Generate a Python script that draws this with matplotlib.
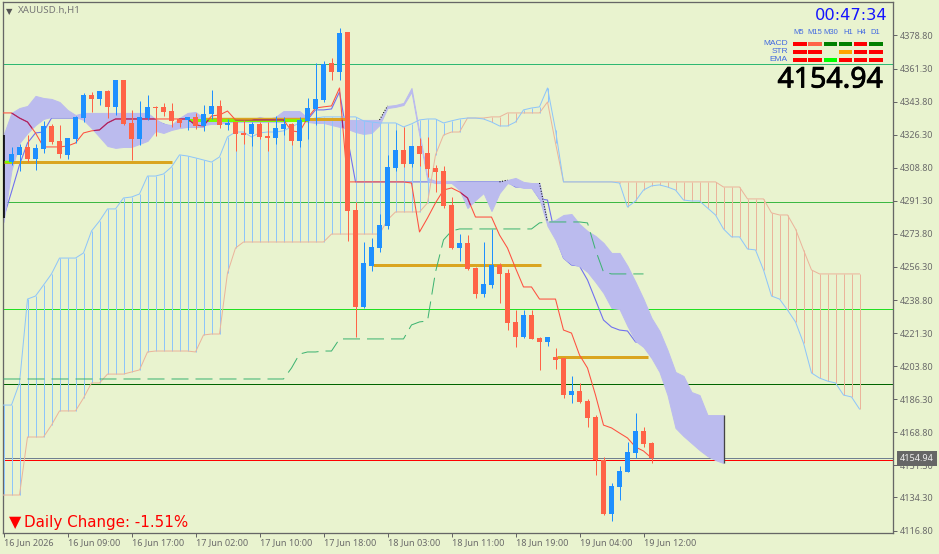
import numpy as np
import matplotlib
matplotlib.use('Agg')
import matplotlib.pyplot as plt
import matplotlib.patheffects as pe
from matplotlib.patches import Rectangle

W, H = 939, 554
BG = '#E9F3CF'
UP = '#1E90FF'
DOWN = '#FF6347'

# candles
opens = [4311.8, 4315.6, 4319.8, 4313.4, 4318.7, 4330.9, 4323.0, 4315.6, 4324.0, 4335.1,
         4347.3, 4345.2, 4349.4, 4341.0, 4355.3, 4332.5, 4324.0, 4335.1, 4341.0, 4341.0,
         4338.8, 4334.6, 4334.1, 4335.7, 4330.9, 4337.3, 4341.5, 4331.4, 4333.0, 4327.2,
         4326.7, 4332.0, 4325.6, 4324.6, 4329.3, 4332.0, 4323.0, 4333.6, 4339.9, 4344.7,
         4364.3, 4359.5, 4380.7, 4286.4, 4235.1, 4256.8, 4266.3, 4278.0, 4308.7, 4318.2,
         4310.8, 4320.3, 4316.6, 4308.7, 4307.1, 4289.1, 4266.3, 4269.0, 4255.7, 4242.0,
         4246.7, 4257.3, 4253.1, 4227.2, 4219.2, 4230.9, 4218.7, 4216.6, 4208.6, 4208.1,
         4188.5, 4190.6, 4185.4, 4176.9, 4154.1, 4125.5, 4139.8, 4147.8, 4157.8, 4169.5,
         4163.1]
closes = [4316.1, 4319.8, 4313.4, 4319.3, 4330.9, 4322.4, 4316.1, 4324.6, 4335.7, 4347.3,
          4345.2, 4349.4, 4341.0, 4355.3, 4332.0, 4324.0, 4335.7, 4341.0, 4340.4, 4338.3,
          4333.6, 4332.5, 4335.7, 4330.9, 4337.3, 4341.5, 4331.4, 4332.5, 4326.7, 4326.1,
          4332.0, 4325.1, 4324.6, 4329.9, 4332.0, 4323.0, 4334.1, 4340.4, 4345.2, 4363.7,
          4359.5, 4380.1, 4285.9, 4235.1, 4258.4, 4266.9, 4278.5, 4309.2, 4318.2, 4310.8,
          4320.3, 4316.1, 4308.1, 4306.6, 4288.6, 4266.3, 4269.0, 4255.2, 4242.0, 4247.3,
          4257.3, 4252.6, 4226.6, 4219.2, 4230.9, 4218.2, 4216.6, 4219.2, 4207.1, 4188.5,
          4190.6, 4184.8, 4176.4, 4154.1, 4125.5, 4140.4, 4148.3, 4158.4, 4169.5, 4162.6,
          4154.94]
highs = [4319.8, 4321.4, 4326.1, 4321.4, 4333.6, 4332.0, 4331.4, 4324.6, 4336.2, 4348.4,
         4348.9, 4349.4, 4350.0, 4355.3, 4355.3, 4339.4, 4344.1, 4347.3, 4341.5, 4343.1,
         4343.1, 4334.6, 4335.7, 4337.8, 4342.0, 4350.0, 4344.7, 4334.6, 4333.0, 4334.1,
         4333.0, 4333.0, 4333.0, 4336.2, 4335.7, 4332.5, 4335.7, 4345.7, 4364.3, 4365.3,
         4366.9, 4382.8, 4380.7, 4290.7, 4269.5, 4271.6, 4284.3, 4315.6, 4328.8, 4330.4,
         4320.3, 4324.6, 4325.1, 4310.3, 4309.7, 4293.3, 4273.7, 4273.2, 4256.3, 4269.5,
         4276.4, 4258.4, 4255.2, 4233.5, 4233.5, 4233.5, 4219.2, 4219.2, 4213.4, 4208.1,
         4198.6, 4194.9, 4186.4, 4177.9, 4155.7, 4141.9, 4150.9, 4163.6, 4179.0, 4171.6,
         4163.6]
lows = [4310.3, 4307.1, 4311.8, 4307.6, 4316.6, 4321.4, 4314.0, 4313.4, 4321.9, 4333.0,
        4338.3, 4342.0, 4335.1, 4336.7, 4331.4, 4312.9, 4320.8, 4334.1, 4325.6, 4336.2,
        4330.4, 4330.4, 4328.8, 4329.3, 4328.3, 4334.6, 4329.8, 4328.8, 4317.7, 4321.4,
        4320.3, 4324.0, 4317.7, 4321.4, 4326.1, 4320.8, 4319.8, 4324.0, 4331.4, 4343.6,
        4355.3, 4355.3, 4270.0, 4219.2, 4234.6, 4254.2, 4264.2, 4276.4, 4307.1, 4309.2,
        4309.2, 4309.7, 4303.9, 4296.0, 4287.5, 4265.8, 4259.4, 4254.7, 4239.9, 4240.4,
        4245.2, 4237.2, 4222.9, 4213.9, 4218.7, 4218.2, 4201.8, 4214.5, 4202.3, 4186.9,
        4184.3, 4184.3, 4171.6, 4146.2, 4125.0, 4121.8, 4132.9, 4147.8, 4155.2, 4161.0,
        4152.5]

# ichimoku lines, one value per bar starting at the first bar
tenkan = [4337.8, 4337.8, 4335.1, 4333.0, 4327.2, 4319.8, 4319.8, 4319.8, 4320.3, 4321.9,
          4327.2, 4328.3, 4328.8, 4332.5, 4334.6, 4334.6, 4334.6, 4334.6, 4334.6, 4334.6,
          4334.6, 4334.6, 4334.6, 4334.6, 4331.4, 4330.9, 4336.2, 4336.7, 4338.8, 4334.1,
          4334.1, 4334.1, 4334.1, 4334.1, 4334.1, 4334.1, 4328.3, 4327.7, 4335.1, 4340.4,
          4341.0, 4341.5, 4351.0, 4301.3, 4301.3, 4301.3, 4301.3, 4301.3, 4301.3, 4301.3,
          4301.3, 4300.7, 4274.8, 4282.2, 4290.2, 4297.0, 4298.1, 4296.0, 4292.8, 4282.7,
          4282.7, 4282.7, 4273.2, 4266.3, 4255.7, 4245.7, 4245.7, 4239.3, 4239.3, 4239.3,
          4222.9, 4221.3, 4209.7, 4202.8, 4188.5, 4172.6, 4171.1, 4168.4, 4165.8, 4161.0,
          4158.9, 4155.2]
kijun = [4282.2, 4296.0, 4310.3, 4321.9, 4327.2, 4327.7, 4335.1, 4335.1, 4335.1, 4335.1,
         4335.1, 4335.1, 4335.1, 4335.1, 4335.1, 4335.1, 4335.1, 4335.1, 4336.2, 4333.6,
         4332.0, 4330.4, 4330.4, 4330.4, 4330.4, 4330.4, 4334.1, 4334.1, 4334.1, 4334.1,
         4334.1, 4334.1, 4334.1, 4334.1, 4334.1, 4334.1, 4334.1, 4333.0, 4334.1, 4339.4,
         4339.4, 4339.9, 4348.9, 4324.6, 4301.3, 4301.3, 4301.3, 4301.3, 4301.3, 4301.3,
         4301.3, 4301.3, 4301.3, 4301.3, 4301.3, 4301.3, 4301.3, 4301.3, 4301.3, 4301.3,
         4301.3, 4301.3, 4301.3, 4301.3, 4298.6, 4298.6, 4298.6, 4292.3, 4291.7, 4272.2,
         4261.0, 4257.3, 4256.8, 4249.4, 4238.8, 4228.2, 4224.5, 4222.9, 4222.4, 4216.6,
         4216.0, 4208.6]
chikou = [4197.0, 4197.0, 4197.0, 4197.0, 4197.0, 4197.0, 4197.0, 4197.0, 4197.0, 4197.0,
          4197.0, 4197.0, 4197.0, 4197.0, 4197.0, 4197.0, 4197.0, 4197.0, 4197.0, 4197.0,
          4197.0, 4197.0, 4197.0, 4197.0, 4197.0, 4197.0, 4197.0, 4197.0, 4197.0, 4197.0,
          4197.0, 4197.0, 4197.0, 4197.0, 4197.0, 4197.0, 4202.8, 4210.2, 4211.3, 4211.3,
          4211.8, 4211.8, 4218.2, 4218.2, 4218.2, 4218.2, 4218.2, 4218.2, 4218.2, 4218.2,
          4218.2, 4225.6, 4227.2, 4227.7, 4253.6, 4270.6, 4275.3, 4276.4, 4276.4, 4276.4,
          4276.4, 4276.4, 4276.4, 4276.4, 4276.4, 4276.4, 4276.4, 4279.6, 4280.1, 4280.1,
          4280.1, 4280.1, 4280.1, 4279.6, 4265.3, 4253.6, 4252.6, 4252.6, 4252.6, 4252.6,
          4252.6]
span_blue = [4183.2, 4183.2, 4194.9, 4239.3, 4240.9, 4246.7, 4252.6, 4261.0, 4261.0, 4261.0,
             4263.7, 4275.3, 4280.6, 4287.0, 4287.0, 4292.8, 4293.3, 4294.9, 4304.4, 4304.4,
             4305.5, 4309.2, 4315.6, 4315.0, 4314.0, 4312.9, 4311.8, 4314.5, 4325.1, 4327.7,
             4327.7, 4325.1, 4327.2, 4327.7, 4327.7, 4328.3, 4330.4, 4332.5, 4334.1, 4335.1,
             4335.7, 4335.7, 4335.7, 4335.7, 4335.7, 4333.6, 4333.0, 4332.5, 4332.5, 4332.5,
             4330.4, 4332.0, 4334.1, 4334.6, 4334.6, 4332.5, 4333.6, 4334.6, 4335.1, 4335.1,
             4334.6, 4333.0, 4330.9, 4330.9, 4333.0, 4339.4, 4340.4, 4341.0, 4351.0, 4328.8,
             4301.3, 4301.3, 4301.3, 4301.3, 4301.3, 4301.3, 4301.3, 4300.7, 4288.0, 4291.2,
             4297.0, 4299.2, 4299.7, 4298.6, 4297.0, 4291.7, 4291.2, 4291.2, 4287.5, 4283.8,
             4276.4, 4272.2, 4272.2, 4265.8, 4265.3, 4254.7, 4240.9, 4239.3, 4233.5, 4227.2,
             4216.0, 4200.2, 4197.5, 4195.9, 4194.9, 4188.5, 4187.5, 4181.1]
span_salmon = [4135.6, 4135.6, 4135.6, 4166.3, 4166.3, 4166.3, 4172.6, 4180.1, 4180.1, 4180.1,
               4186.9, 4194.9, 4194.9, 4199.6, 4199.6, 4199.6, 4200.7, 4201.8, 4211.3, 4211.8,
               4211.8, 4211.8, 4211.8, 4211.8, 4211.3, 4220.3, 4220.8, 4220.8, 4253.1, 4266.3,
               4269.5, 4269.5, 4269.5, 4269.5, 4269.5, 4269.5, 4269.5, 4269.5, 4269.5, 4269.5,
               4269.5, 4273.7, 4273.7, 4273.7, 4273.7, 4273.7, 4273.7, 4273.7, 4281.2, 4285.4,
               4285.4, 4285.4, 4285.4, 4290.2, 4315.6, 4326.1, 4327.7, 4327.7, 4335.1, 4335.1,
               4335.1, 4335.7, 4335.7, 4337.8, 4337.8, 4337.8, 4337.8, 4337.8, 4343.6, 4321.9,
               4301.3, 4301.3, 4301.3, 4301.3, 4301.3, 4301.3, 4301.3, 4301.3, 4301.3, 4301.3,
               4301.3, 4301.3, 4301.3, 4301.3, 4301.3, 4301.3, 4301.3, 4301.3, 4301.3, 4301.3,
               4298.6, 4298.6, 4298.6, 4292.3, 4292.3, 4292.3, 4284.9, 4283.8, 4283.8, 4276.4,
               4265.3, 4254.7, 4252.6, 4252.6, 4252.6, 4252.6, 4252.6, 4252.6]
cloud_top = [4326.1, 4337.8, 4340.4, 4341.5, 4346.8, 4345.7, 4345.2, 4343.6, 4339.4, 4336.7,
             4337.8, 4337.8, 4337.8, 4337.8, 4337.8, 4337.8, 4337.8, 4337.8, 4337.8, 4334.6,
             4332.0, 4331.4, 4335.1, 4337.8, 4338.3, 4335.1, 4333.6, 4334.1, 4334.1, 4334.1,
             4334.1, 4334.1, 4335.7, 4334.6, 4335.7, 4338.8, 4338.8, 4338.8, 4335.1, 4335.1,
             4335.1, 4334.1, 4334.1, 4334.1, 4334.1, 4334.1, 4334.1, 4334.1, 4341.5, 4342.0,
             4343.1, 4351.0, 4327.2, 4303.4, 4301.8, 4301.8, 4301.8, 4301.3, 4301.3, 4301.3,
             4301.3, 4301.3, 4301.3, 4302.3, 4303.4, 4301.3, 4300.7, 4300.7, 4280.1, 4281.2,
             4283.8, 4284.3, 4279.0, 4275.3, 4272.7, 4269.0, 4263.7, 4263.7, 4256.8, 4248.3,
             4239.3, 4229.3, 4222.4, 4212.3, 4200.7, 4198.6, 4190.1, 4188.5, 4177.9, 4177.9,
             4177.9]
cloud_bottom = [4280.1, 4307.6, 4321.9, 4327.2, 4331.4, 4334.6, 4335.7, 4335.7, 4335.7, 4335.7,
                4334.1, 4329.8, 4325.1, 4320.3, 4319.3, 4319.8, 4319.8, 4321.4, 4323.0, 4328.3,
                4327.2, 4328.8, 4329.8, 4330.4, 4330.9, 4331.4, 4332.0, 4332.0, 4333.0, 4333.0,
                4333.0, 4333.0, 4333.0, 4333.0, 4333.0, 4333.0, 4333.6, 4334.1, 4333.0, 4332.5,
                4332.5, 4331.4, 4330.4, 4329.3, 4327.7, 4326.7, 4327.2, 4331.4, 4340.4, 4341.0,
                4342.0, 4348.9, 4325.6, 4301.8, 4300.7, 4300.7, 4300.7, 4297.0, 4287.5, 4291.7,
                4295.4, 4285.9, 4295.4, 4300.7, 4299.2, 4298.1, 4298.1, 4292.3, 4278.0, 4270.6,
                4261.0, 4257.9, 4256.8, 4253.6, 4248.3, 4242.5, 4234.6, 4234.0, 4225.0, 4217.1,
                4213.9, 4208.1, 4200.7, 4188.5, 4171.1, 4166.8, 4163.1, 4159.4, 4156.2, 4154.1,
                4152.5]

# horizontal levels and the short thick ones
level_prices = [4363.6, 4290.8, 4233.9, 4194.2, 4154.94, 4154.0]
level_colors = ['#2EB872', '#3CB843', '#22E022', '#006400', '#708090', '#FF0000']
thick_prices = [4311.8, 4334.6, 4257.1, 4208.6]
thick_start = [0.0, 38.0, 46.2, 69.2]
thick_end = [21.1, 42.7, 67.2, 80.6]

# axis labels
y_ticks = [4378.80, 4361.30, 4343.80, 4326.30, 4308.80, 4291.30, 4273.80, 4256.30,
           4238.80, 4221.30, 4203.80, 4186.30, 4168.80, 4151.30, 4134.30, 4116.80]
x_ticks = [0, 8, 16, 24, 32, 40, 48, 56, 64, 72, 80]
x_labels = ['16 Jun 2026', '16 Jun 09:00', '16 Jun 17:00', '17 Jun 02:00', '17 Jun 10:00',
            '17 Jun 18:00', '18 Jun 03:00', '18 Jun 11:00', '18 Jun 19:00', '19 Jun 04:00',
            '19 Jun 12:00']

# signal panel
timeframes = ['M5', 'M15', 'M30', 'H1', 'H4', 'D1']
signal_rows = ['MACD', 'STR', 'EMA']
macd_colors = ['#FF0000', '#FF6347', '#008000', '#008000', '#FF0000', '#008000']
str_colors = ['#FF0000', '#FF0000', None, '#FFA500', '#FF0000', '#FF0000']
ema_colors = ['#FF0000', '#FF0000', '#00FF00', '#FF0000', '#FF0000', '#FF0000']

plt.rcParams['font.family'] = ['Noto Sans', 'DejaVu Sans']

fig = plt.figure(figsize=(W / 100, H / 100), dpi=100, facecolor=BG)
ax = fig.add_axes([3 / W, 1 - 533 / H, 890 / W, 531 / H], facecolor=BG)
ax.set_xlim(-0.0625, 111.1875)
ax.set_ylim(4115.5, 4396.5)

px = 0.72  # one pixel in points

# levels
ax.hlines(level_prices, -1, 112, colors=level_colors, lw=px, zorder=1)

# kijun goes under the cloud, it vanishes there in the reference
ax.plot(np.arange(len(kijun)), kijun, color='#7070F0', lw=px * 1.1, zorder=1.5)

# cloud
cloud_x = np.arange(len(cloud_top))
cloud = ax.fill_between(cloud_x, cloud_bottom, cloud_top, color='#BBBBEE', lw=px, zorder=2)
ax.vlines(cloud_x[-1], cloud_bottom[-1], cloud_top[-1], color='#444444', lw=px * 1.3, zorder=2.5)

# black dots where the cloud flips
flip_start = [47, 62, 67]
for b in flip_start:
    ax.plot([b, b + 1], [cloud_top[b], cloud_top[b + 1]], color='black', lw=px, ls=':', zorder=2.6)
ax.vlines(0, 4282.2, 4326.1, color='black', lw=px * 1.6, zorder=2.6)

# hatching between the two spans
span_x = np.arange(len(span_blue))
blue = np.array(span_blue)
salmon = np.array(span_salmon)
hatch_colors = ['#8EC5FA' if b > s else '#EBB49B' for b, s in zip(blue, salmon)]
ax.vlines(span_x, blue, salmon, colors=hatch_colors, lw=px, zorder=3)
ax.plot(span_x, span_salmon, color='#EBB49B', lw=px, zorder=3)
ax.plot(span_x, span_blue, color='#8EC5FA', lw=px, zorder=3)

# thick levels
ax.hlines(thick_prices, thick_start, thick_end, colors='#DAA520', lw=px * 3, zorder=4)
ax.hlines(4334.1, 23, 38, colors='#7CFC00', lw=px * 3, zorder=3.9)
ax.hlines(4334.9, 25.2, 38, colors='#DAA520', lw=px * 1.4, zorder=4)
ax.hlines(4311.8, 0.2, 1, colors='#7CFC00', lw=px * 2.5, zorder=4.1)

# chikou
ax.plot(np.arange(len(chikou)), chikou, color='#3CB371', lw=px, ls=(0, (17, 7)),
        dash_capstyle='butt', zorder=4)

# tenkan, dark magenta where it runs over the cloud
tenkan_x = np.arange(len(tenkan))
ax.plot(tenkan_x, tenkan, color='#FF5040', lw=px * 1.05, zorder=4.5)
inside, = ax.plot(tenkan_x, tenkan, color='#A0206E', lw=px * 1.1, zorder=4.6)
inside.set_clip_path(cloud.get_paths()[0], ax.transData)

# candles
bars = np.arange(1, len(opens) + 1)
o = np.array(opens)
c = np.array(closes)
colors = [UP if b > a else DOWN for a, b in zip(o, c)]
ax.vlines(bars, lows, highs, colors=colors, lw=px, zorder=5)
ax.bar(bars, np.abs(c - o), bottom=np.minimum(o, c), width=5 / 8, color=colors, lw=0, zorder=5)

# axes look
for side in ['top', 'left', 'right', 'bottom']:
    ax.spines[side].set_color('#666666')
    ax.spines[side].set_linewidth(px * 1.3)
ax.yaxis.tick_right()
ax.set_yticks(y_ticks)
ax.set_yticklabels([f'{v:.2f}' for v in y_ticks], fontsize=6.5, color='#6A6A6A')
ax.set_xticks(x_ticks)
ax.set_xticklabels(x_labels, fontsize=6.5, color='#6A6A6A', ha='left')
ax.tick_params(axis='both', length=3, width=px, color='#666666')
ax.tick_params(axis='y', pad=2)
ax.tick_params(axis='x', pad=0.5)


def put(x, y, s, **kw):
    # text at a pixel position of the screenshot
    return fig.text(x / W, 1 - y / H, s, va='center', **kw)


# current price tag
ax.annotate('4154.94', xy=(1, 4154.94), xycoords=('axes fraction', 'data'), xytext=(5, 0),
            textcoords='offset points', fontsize=6.5, color='#F0F0F0', va='center', ha='left',
            bbox=dict(boxstyle='square,pad=0.3', fc='#666666', ec='none'), zorder=10,
            annotation_clip=False)

# header
put(18, 10.5, 'XAUUSD.h,H1', fontsize=7, color='#777777', ha='left')
fig.text(5.5 / W, 1 - 14 / H, '▼', fontsize=6, color='#555555', family='DejaVu Sans')

# clock and panel
put(887, 15, '00:47:34', fontsize=11.7, color='#1414FF', ha='right', family='DejaVu Sans')
label_x = [799, 815, 831, 848, 861, 875]
for x, name in zip(label_x, timeframes):
    put(x, 33, name, fontsize=5.5, color='#4169E1', ha='center', family='Liberation Sans')
for y, name in zip([43.5, 51.5, 59.5], signal_rows):
    put(788, y, name, fontsize=6, color='#4169E1', ha='right', family='Liberation Sans')
for y, row in zip([41.5, 49.5, 57.5], [macd_colors, str_colors, ema_colors]):
    for col, colour in enumerate(row):
        if colour is None:
            continue
        fig.add_artist(Rectangle(((793.3 + 15.15 * col) / W, 1 - (y + 4) / H), 13.5 / W, 4 / H,
                                 transform=fig.transFigure, fc=colour, ec='none', zorder=11))

big = put(883, 80, '4154.94', fontsize=20.5, color='black', ha='right', zorder=11)
big.set_path_effects([pe.withStroke(linewidth=0.6, foreground='black')])

# daily change
put(24, 522.5, 'Daily Change: -1.51%', fontsize=10.9, color='#FF0000', ha='left', family='DejaVu Sans')
fig.text(8.5 / W, 1 - 527.5 / H, '▼', fontsize=11.5, color='#FF0000', family='DejaVu Sans')

fig.savefig('out.png', dpi=100, facecolor=BG)
